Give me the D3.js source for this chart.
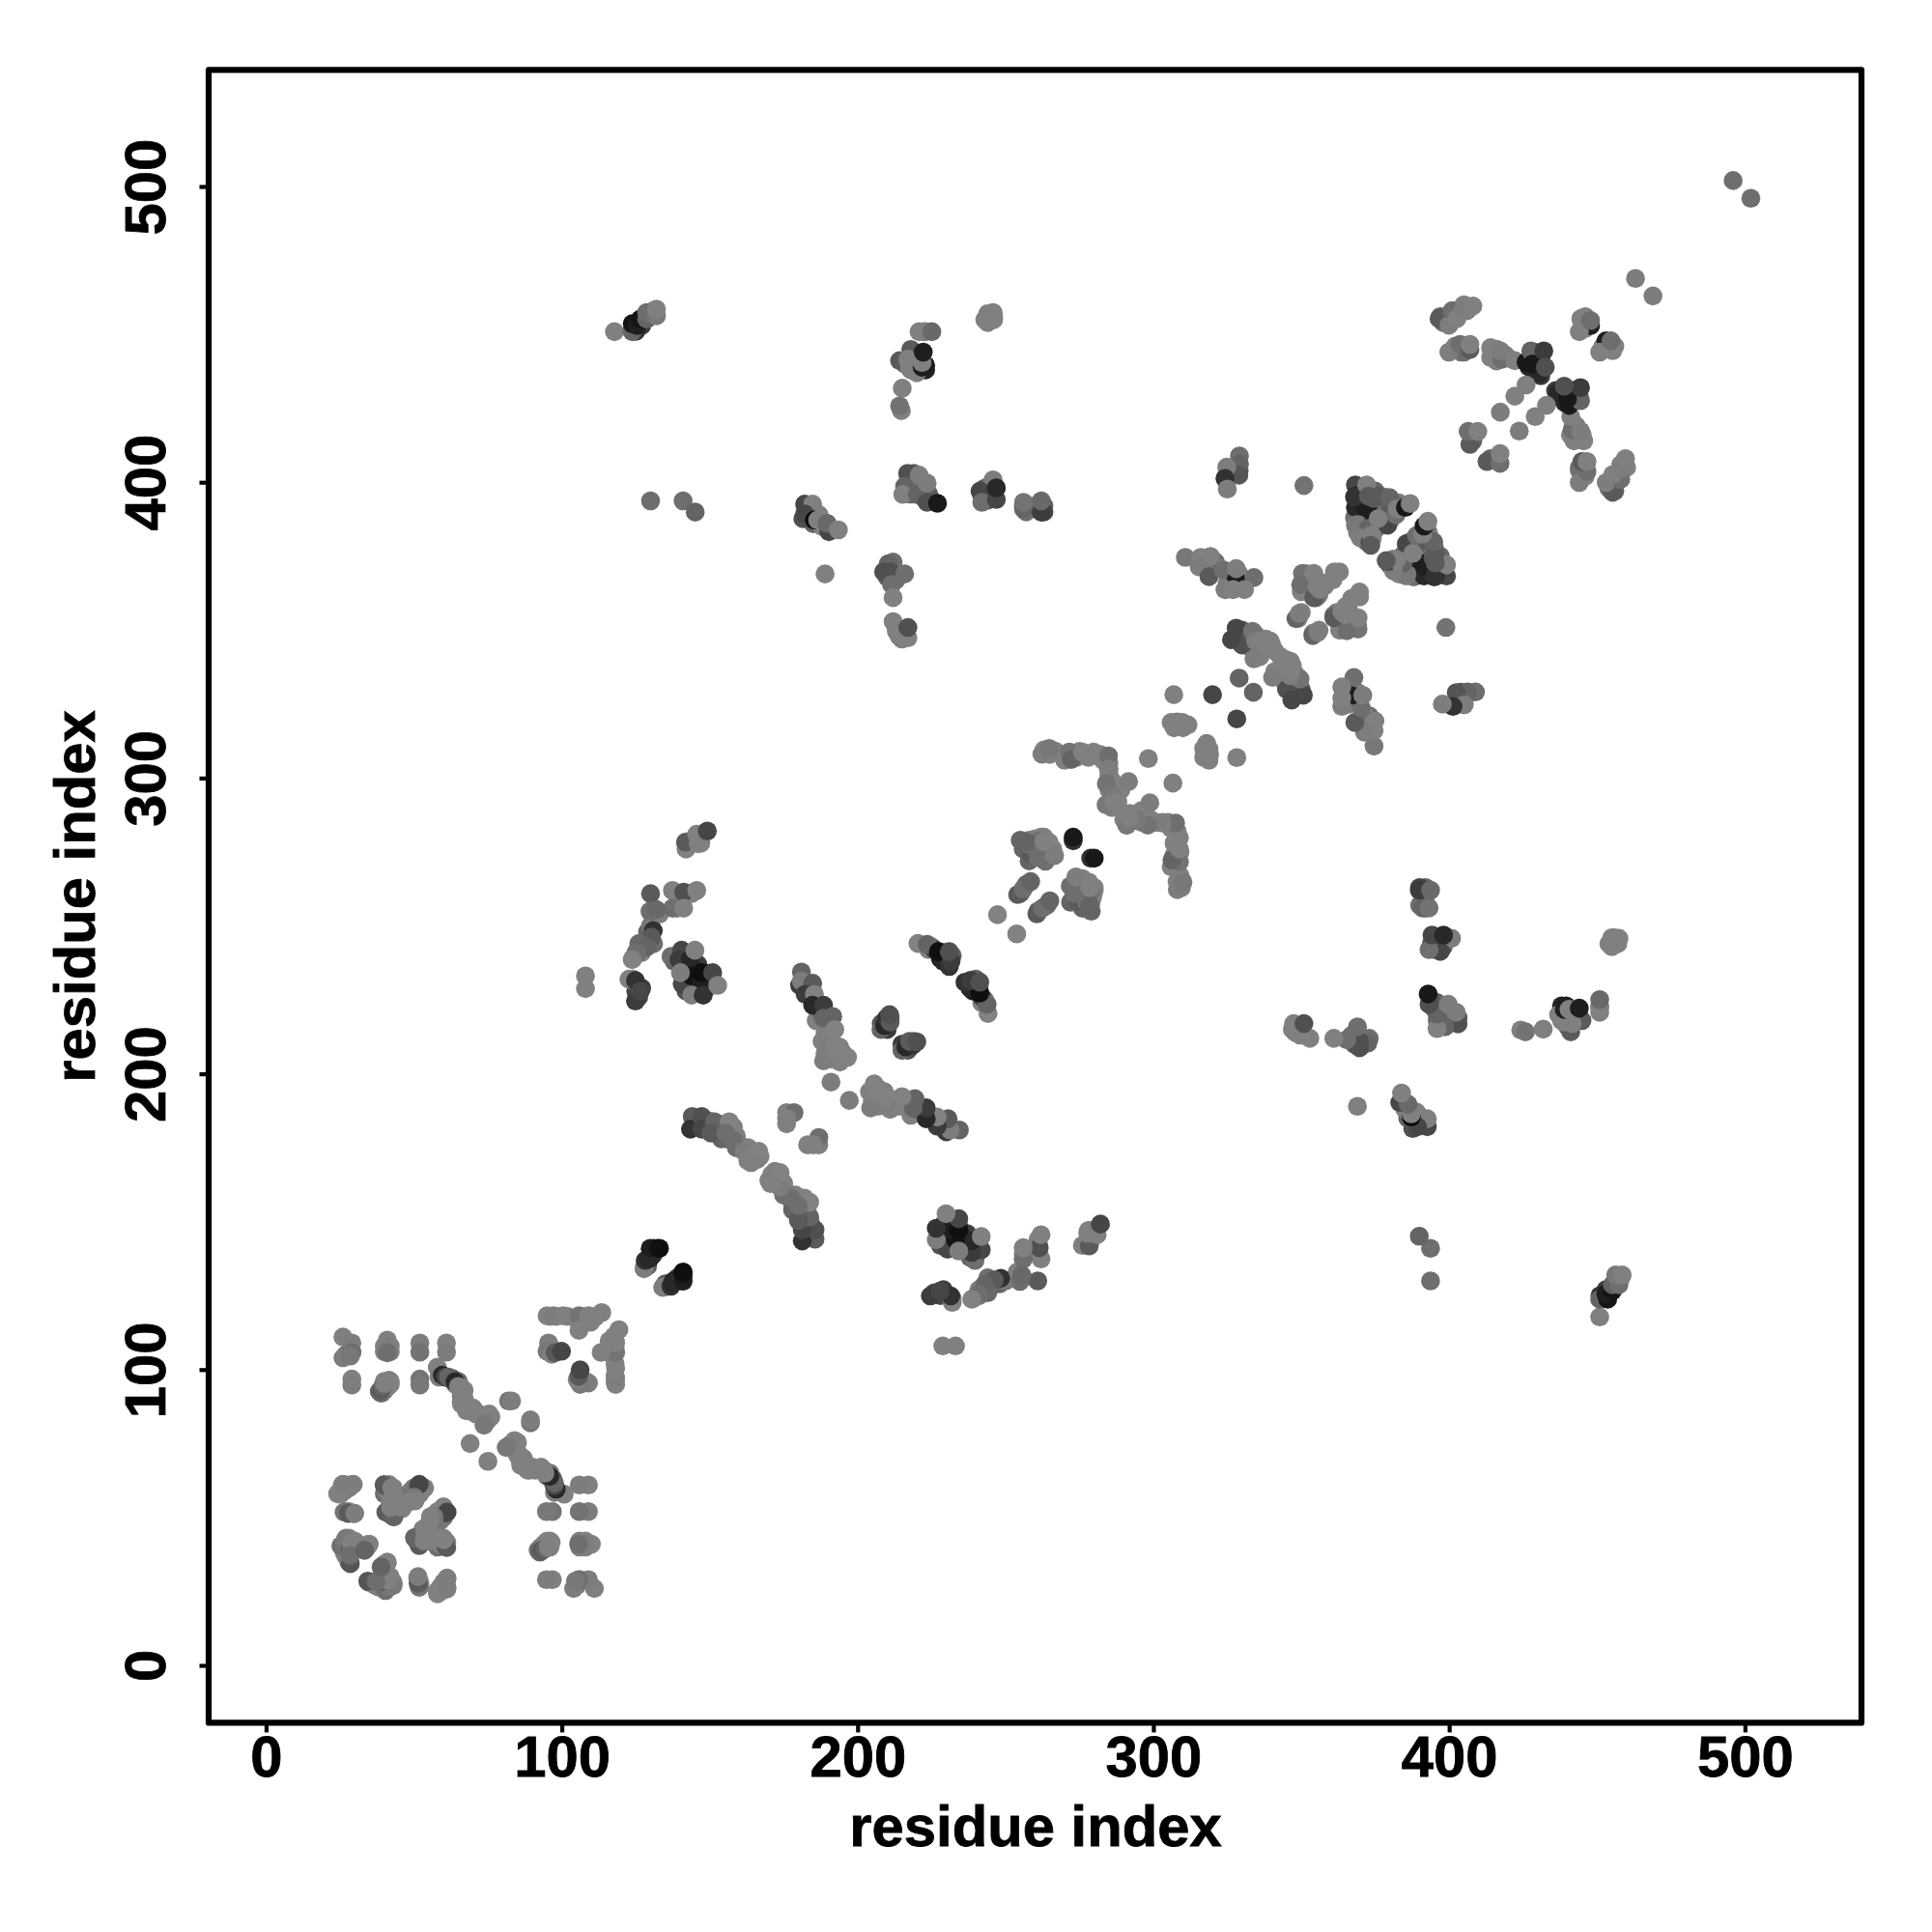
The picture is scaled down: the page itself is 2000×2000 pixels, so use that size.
<!DOCTYPE html>
<html><head><meta charset="utf-8">
<script src="https://cdn.jsdelivr.net/npm/d3@7"></script>
<style>html,body{margin:0;padding:0;background:#fff}svg{display:block}</style>
</head><body><svg id="c" width="2000" height="2000"></svg>
<script>
// Each entry: residue i, residue j (i<j), grey level. The contact map is symmetric about i=j.
// Points mostly covered by others inside the clusters (drawn first)
const coveredLow=[[25,59,128],[27,60,128],[28,60,128],[27,52,128],[28,52,128],[40,58,110],[41,59,128],[42,60,128],[43,60,128],[44,58,128],[44,57,128],[45,56,128],[41,52,110],[42,51,110],[43,52,128],[44,52,128],[42,55,128],[43,53,128],[49,59,120],[50,60,120],[52,58,128],[51,57,128],[49,57,128],[46,55,128],[46,53,128],[27,41,128],[27,39,110],[28,40,110],[29,39,128],[30,41,128],[27,43,128],[28,43,128],[28,35,100],[26.5,38,128],[27,37,128],[29,38,128],[30,42,128],[62,97,90],[63,97,90],[64,95,110],[65,96,110],[66,94,128],[67,93,128],[66,91,128],[67,90,128],[66,89,128],[68,88,128],[69,86,128],[70,87,128],[72,85,128],[73,84,128],[74,84,128],[76,84,128],[75,83,128],[40,108,128],[42,108,128],[41,109,128],[42,106,128],[40,106,128],[39,92,110],[40,93,110],[41,94,128],[42,95,128],[42,96,128],[40,96,128],[29,106,128],[27,105,110],[96,118,128],[98,118,128],[102,118,128],[107,118,128],[110,118,128],[107,116,128],[108,117,128],[106,115,128],[96,108,128],[96,106,128],[98,106,128],[129,135,90],[131,139,60],[131,141,40],[128,135,125]];
const coveredMid=[[146,183,100],[149,183,110],[150,184,128],[152,181,128],[153,183,128],[154,182,128],[156,181,128],[158,180,128],[158,182,128],[159,179,128],[160,176,120],[161,175,128],[163,175,128],[164,174,128],[165,172,128],[163,172,128],[164,170,128],[166,171,128],[167,172,128],[159,175,110],[156,178,100],[154,178,100],[186,218,128],[189,214,128],[190,212,128],[191,213,128],[188,211,128],[189,207,128],[190,206,128],[191,205,128],[193,205,128],[194,204,128],[195,207,128],[192,210,128],[194,209,128],[190,216,128],[188,220,100],[208,217,80],[210,215,60],[211,219,90],[224,242,128],[225,243,128],[228,239,30],[229,241,50],[230,238,30],[232,240,100],[229,238,40],[226,242,60],[259,276,110],[260,275,128],[262,275,128],[264,274,128],[265,275,128],[262,277,128],[260,278,110],[258,272,100],[263,280,128],[266,276,128],[256,276,100],[255,279,100],[258,279,128],[260,279.5,128],[262,280,128],[255,261,100],[257,264,100],[263,309.5,128],[265,308,128],[267,309,128],[269,308,128],[270,306,128],[274,307,128],[275,309,128],[278,307,128],[282,308,128],[283,306,128],[285,305,128],[285,301,128],[286,299,128],[285,296,128],[287,297,128],[288,295,128],[289,296,128],[287,293,128],[288,292,128],[285,303,128],[286,290,128],[284,291,120],[307,317,128],[308,319,128],[310,317,128]];
const coveredHigh=[[321,373,110],[322,371,128],[320,371,110],[317,372,128],[325,366,128],[326,368,110],[329,365,128],[328,366,128],[325,365,128],[329,369,128],[351,367,128],[352,369,120],[353,368,128],[354,366,128],[352,364,128],[353,363,128],[355,367,128],[357,366,128],[356,362,128],[358,365,128],[350,363,128],[355,361,110],[349,354,128],[350,356,128],[330,350,90],[329,347,70],[332,347,128],[331,349,90],[335,348,128],[337,344,128],[338,347,128],[335,343,128],[333,344,128],[340,345,128],[341,343,128],[336,341,128],[330,345,80],[334,349,128],[370,398,110],[370,394,60],[370,392,60],[369,389,70],[370,389,128],[368,388,110],[372,388,128],[374,392,110],[375,390,128],[377,393,128],[378,391,110],[378,388,100],[376,385,100],[375,384,110],[371,383,128],[369,383,128],[374,381,128],[372,380,100],[381,393,128],[380,387,128],[378,395,110],[375,397,100],[373,396,120],[370,391,128],[381,392,128],[383,393,128],[384,392,110],[370,396,90],[397,456,100],[398,454,110],[400,456,110],[401,455,120],[403,457,128],[405,460,128],[406,458,128],[402,446,128],[404,444,128],[405,446,128],[405,444,110],[415,443,128],[416,445,128],[418,442,128],[419,443,110],[420,442,128],[416,441,128],[428,442,25],[429,437,40],[431,442,60],[427,439,40],[430,439,70],[431,436,60],[429,444,100],[408,416,110],[408,414,100],[446,452,128],[445,454,128],[446,456,128]];
const coveredFar=[[126,454,40],[127,453,60],[129,456,128],[130,457,128],[131,458,128],[124,452,20],[125,451,50],[219,443,110],[219,439,128],[220,442,128],[216,440,100],[218,438,128],[223,438,35],[223,439.5,30],[220,441,128],[243,455,128],[244,457,128],[246,456,128],[246,455,128],[244,454,128],[223,450.9,128],[220,437,128],[183,391,90],[183,389,100],[184,388,30],[187,389,128],[185,386,100],[188,385,128],[190,385,110],[191,384,128],[188,387,128],[182,388,90],[184,390,128],[218,401,100],[219,398,128],[218,396,100],[221,399,128],[222,397,128],[221,401,128],[222,395,100],[224,396,100],[225,394,90],[219,403,90],[217,400,110],[243,396,70],[243,398,90],[245,396,60],[244,394,80],[245,399,110],[242,395,100],[244,397,60],[258,392,128],[257,390,110],[256,392,128],[261,392,110],[263,392,100],[263,390,70],[210,371,100],[212,371,110],[212,368,100],[213,367,110],[210,368,90],[212,373,110],[213,351,128],[214,350,128],[215,349,128],[215,347,128],[214,348,128],[329,404,80],[327,403,100],[326,404,110],[124,239,125],[125,241,128],[126,242,128],[127,243,110],[127,241,128],[128,245,110],[129,246,110],[129,248,100],[130,250,120],[131,253,128],[131,256,128],[133,254,128],[131,244,110],[129,244,110],[139,261,128],[143,261,128],[144,261,128],[139,256,128],[143,278,100],[144,279,128],[147,279,128],[142,276,128],[147,278,128],[138,238,100],[141,237,60],[142,240,60],[143,236,60],[145,238,40],[146,237,60],[142,232,100],[142,228,80],[145,230,90],[146,228,80],[149,232,50],[150,231,70],[149,229,70],[146,232,20],[145,235,30],[143,230,100],[149,234,40],[151,230,128],[126,226,70],[125,228,70],[127,229,60],[124,232,128]];
// Surface points
const blockTopLeft=[[26,111,128],[29,109,125],[26,104,125],[29,105.7,110],[28.5,104.6,120],[29,96.8,128],[29,94.8,125],[41,110,128],[41,107.9,125],[41,105.7,110],[38.3,92.6,100],[38.9,93.2,90],[39.4,94.3,100],[40,95.4,128],[41.6,96.4,128],[52,109,125],[52,105.9,115],[52,96.8,115],[52,94.8,120],[61,109,128],[61,105.9,125],[57.9,100.8,128],[58.5,97.5,125]];
const bandA=[[66.1,88.3,128],[67.7,86.1,128],[71,85,128],[75.4,85,128],[74.3,82.3,125],[73.7,81.2,120],[82,89.4,115],[83,89.4,125],[69,75,128],[59.6,98.1,40],[60.7,97.5,70],[61.7,97.5,100],[63.9,95.9,40],[65,94.3,128],[66.6,92.6,128]];
const blockTopRight=[[95,118.2,128],[97.1,118.2,125],[100.4,118.2,128],[105.8,118.2,115],[109.1,118.2,128],[111.3,117.7,128],[113.5,119.3,128],[105.8,113.3,128],[109.7,116,128],[95.5,109,125],[95,106.2,120],[96.6,105.2,128],[97.7,105.7,90],[99.9,106.2,70]];
const blockBottomLeft=[[25.8,61.1,128],[29,61.1,130],[24.2,58,130],[26.4,58.9,125],[26.4,51.8,115],[29.6,51.3,128],[27.8,51.4,90],[30,51.4,125],[25.1,57.9,128],[26.2,61.2,125],[29.5,61.2,125],[25.3,40.4,110],[26.4,41.4,115],[26.9,42.5,120],[28.5,39.3,90],[29,41.4,128],[28.9,41,128],[34,39.8,100],[34.5,40.9,125],[34.9,41,128],[28.5,34.4,85],[28.4,37.2,110],[33.3,38.9,100],[39.9,61.1,90],[41.6,61.1,125],[40.4,60.7,90],[42.5,60.1,128],[43.2,57.8,128],[44.9,55.6,128],[40.5,51.8,90],[43.2,50.2,105],[43.1,50.3,100],[42.1,53.4,128],[51.4,60.5,90],[53.6,60,128],[51.8,61.2,70],[48.7,56.7,115],[50.2,56.8,120],[50.3,55.6,128],[47,54.5,128],[48,55.2,128],[45.3,53.6,128]];
const pair130=[[127.8,134.1,125],[128.2,136.9,50],[129.9,137.7,35],[129.3,137.4,40],[130,140.7,50],[129.9,141,30],[132.3,141,25],[133,141,15]];
const bandB=[[144.1,185.6,90],[143.5,181.3,50],[147.3,185.6,80],[147.3,181.3,70],[151.6,183.8,100],[150.4,180,90],[156.6,183.8,130],[155.4,180,110],[157.9,177.5,110],[161.6,173.8,125],[166.6,173.8,130],[162.9,170.6,128],[176,186.9,128],[178.5,186.9,110],[176,185,128],[176,183.1,128]];
const bandC=[[180.4,230,60],[181,234.4,100],[181,231.3,125],[184.8,230.6,90],[182.3,226.9,60],[185.4,226.9,130],[184.8,223.2,40],[188.5,223.2,60],[191.6,219.4,100],[188.5,218.8,100],[192.3,215,130],[188.5,204.4,125],[189.8,209.4,125],[192.3,209.4,130],[193.5,206.9,130],[196.6,205.6,130],[191,197.2,125]];
const pair210=[[207.9,215,100],[209.1,216.3,40],[209.8,218.8,50],[211,217.5,90],[210.8,220,80]];
const bandD=[[220.4,244.1,130],[223.5,243.8,100],[227.3,241.3,15],[231,236.3,50],[231.6,238.2,60],[231,241.3,80]];
const bandE=[[247.3,253.8,130],[254.1,260.6,90],[256,262.5,110],[258.5,265,100],[258.5,274.4,90],[257.9,277.5,110],[261,273.1,110],[263.5,271.9,110],[261.6,278.8,110],[264.8,278.2,128],[266.6,273.8,125],[256.9,278.5,100],[263,278.5,128],[272.9,278.8,50],[272.9,280,25]];
const bandF=[[262.3,308.1,125],[264.8,310,120],[271.6,308.8,115],[272.3,306.3,100],[276,308.8,128],[279.8,308.8,128],[284.8,307.5,110],[284.8,303.1,125],[284.1,298.1,115],[286,294.4,120],[286.6,291.9,128],[291.6,298.8,125],[298.3,306.6,128]];
const blockSmall=[[306.9,328.2,128],[320,328.2,70],[329,333.8,100],[306,318.8,128],[309.8,318.8,128],[311.7,318,128]];
const clusterOff1=[[310.8,374.6,120],[319.3,374.8,60],[316,374.6,128],[319.3,374.8,128],[315.5,371.4,125],[318.8,368.1,90],[323.7,370.3,110],[328,367,30],[328,370.8,125],[334,367.8,110],[324.2,363.7,125],[327,363.7,128],[330.8,363.7,128]];
const clusterMid=[[350.4,369.2,115],[349.8,365.4,110],[354.2,361,90],[354.2,369.2,128],[355.3,364.8,128],[356.3,363.7,128],[361.2,369.7,128],[362.9,369.7,128],[360.7,367,128],[348.2,353.9,100],[349.3,355.6,125],[328,350.7,70],[326.4,346.8,70],[333.5,349.6,115],[334.6,346.3,125],[336.7,346.3,128],[339.5,346.3,128],[334,340.3,125]];
const diamond=[[368.3,399.1,70],[368.3,395.3,40],[368.3,391.5,40],[372.4,391.2,20],[371.6,391.5,30],[368,395,50],[372.1,399.1,128],[372.7,395.3,90],[376,395.3,90],[379.8,394.8,110],[372.4,385.2,30],[368.3,385.5,120],[369,385.7,120],[372.7,384.4,100],[370,381.2,125],[373.2,379.5,70],[373.8,382.2,128],[373.5,378.7,90],[379.2,385.5,70],[379.8,389.9,90],[376,387.7,128],[374.6,394.5,90],[380,394.5,100],[382,389,110],[382.5,391,128],[385.2,391.5,25],[386.8,392.8,128]];
const topRightA=[[396.6,455.3,90],[399.9,453.1,125],[401,458,110],[402.6,455.3,128],[404.8,458.5,125],[408,459.6,128],[399.9,444,125],[403.7,446.6,110],[407,444.9,90],[407,446.6,128],[414,442.2,128],[414,445.5,128],[417.8,441.6,110],[417.3,444.4,125],[422.2,441.1,128],[426,440.6,25],[427.6,444.4,100],[430.4,436.8,40],[428.2,440,25],[432,444.4,60],[432.5,438.9,80],[426,432.9,128],[422.2,429.1,128],[417.3,423.7,125],[407,412.8,90],[406.4,417.2,110],[409.7,417.2,128],[447.8,453,30],[444,450.9,128],[444.5,455.3,128],[447.8,454.7,110],[463,468.9,125],[496,502,110]];
const farA=[[117.8,450.9,128],[123.8,450.9,100],[123.8,453.6,20],[125.5,453,30],[126.6,455.2,20],[128.7,455.2,100],[128.7,457.4,110],[132,456.3,120],[132,458.5,128]];
const farB=[[220.8,450.9,128],[222.4,450.9,128],[225.1,450.9,105],[214.2,441.1,90],[218,444.9,90],[217.5,438.9,128],[217,441.6,128],[221.8,438.9,30],[221.8,440.5,128],[222.2,444,30],[215.1,431.8,128],[214.8,424.2,128],[214.2,425.8,115],[244.2,455.2,128],[245.8,457.4,128]];
const farC=[[130,393.7,110],[141,393.7,110],[145.1,389.9,100]];
const farD=[[182.1,392.6,70],[184.8,392.6,128],[181.5,387.7,80],[182.1,389.3,70],[185.4,387.2,10],[186.5,387.2,128],[190.3,383.3,70],[189.7,386.1,105],[193.5,383.9,128],[189,369,128]];
const farE=[[216.9,403,80],[215.9,398.6,100],[215.3,395.9,128],[220.2,395.9,100],[220.8,402.4,125],[223.5,399.7,125],[223.5,393.2,80],[227,392.9,25],[245.8,400.8,125],[241.4,397,70],[242,393.2,110],[246.9,394.2,70],[246.9,398.1,40],[256.1,391,100],[256.1,393.2,115],[262.1,389.9,60],[262.1,393.7,105]];
const farF=[[210.4,372.5,100],[208.8,369.7,80],[211,369.7,80],[215.9,369,110],[211.5,365.4,110],[212,361,128],[212,352.9,128],[213.1,349.6,128],[217,347.4,128],[217,350.9,80]];
const farG=[[329.1,408.9,110],[329.1,406.2,100],[328.9,402.4,85],[324.8,405.1,125],[324.2,401.3,50],[325,397.7,125],[350.9,398.9,115]];
const farH=[[108,233.1,128],[108,228.8,128],[122.7,232,128],[124.9,224.6,60],[124.9,231.5,50],[126.5,227.9,70]];
const farI=[[141.8,278.3,90],[146.1,277.8,128],[145.6,281,128],[149.2,282.1,70],[130,260.9,90],[137.4,262,128],[141.2,261.4,80],[145.6,262,128],[137.4,256,110],[141.2,256,128],[129.8,254.9,110],[132,255.5,105],[130.9,248.4,50],[130.3,246.2,90],[126,244,105],[128.7,242.9,100],[125.4,240.8,110],[123.8,238.6,130]];
const farJ=[[136.9,239.7,110],[140.5,241.8,70],[139.6,238.6,60],[143.4,238.6,40],[145,241.8,128],[140.7,230.4,70],[143.9,233.1,20],[147.2,230.4,30],[140.1,234.2,125],[147.2,234.2,15],[143.9,226.6,125],[147.8,226.6,50],[151,234.2,70],[152.7,229.9,128]];
const xTicks=[0,100,200,300,400,500], yTicks=[0,100,200,300,400,500];
const axisLabel="residue index";

const contacts=[].concat(coveredLow,coveredMid,coveredHigh,coveredFar,blockTopLeft,bandA,blockTopRight,blockBottomLeft,pair130,bandB,bandC,pair210,bandD,bandE,bandF,blockSmall,clusterOff1,clusterMid,diamond,topRightA,farA,farB,farC,farD,farE,farF,farG,farH,farI,farJ);
const x=d3.scaleLinear().domain([-19.4,539.4]).range([216,1927]);
const y=d3.scaleLinear().domain([-19.4,539.4]).range([1783.4,72.4]);
const svg=d3.select("#c");
const font="'Liberation Sans',Arial,sans-serif";
const pts=[];
contacts.forEach(d=>{pts.push({a:d[0],b:d[1],g:d[2]});});
contacts.forEach(d=>{pts.push({a:d[1],b:d[0],g:d[2]});});
svg.append("g").selectAll("circle").data(pts).join("circle")
 .attr("cx",d=>x(d.a)).attr("cy",d=>y(d.b)).attr("r",9.8)
 .attr("fill",d=>d3.rgb(d.g,d.g,d.g));
svg.append("rect").attr("x",216).attr("y",72.4).attr("width",1927-216).attr("height",1783.4-72.4)
 .attr("fill","none").attr("stroke","#000").attr("stroke-width",6.2).attr("stroke-linejoin","round");
const gx=svg.append("g").attr("transform","translate(0,1783.4)").call(d3.axisBottom(x).tickValues(xTicks).tickSize(10).tickPadding(5));
const gy=svg.append("g").attr("transform","translate(216,0)").call(d3.axisLeft(y).tickValues(yTicks).tickSize(9.5).tickPadding(5));
[gx,gy].forEach(g=>{g.select(".domain").remove();g.selectAll("line").attr("stroke","#000").attr("stroke-width",4.2);
 g.selectAll("text").attr("fill","#000").attr("stroke","#000").attr("stroke-width",0.8).style("font-family",font).style("font-weight","700").style("font-size","59.8px");});
gx.selectAll("text").each(function(){d3.select(this).attr("y",56).attr("dy","0");});
gy.selectAll("text").each(function(){d3.select(this).attr("x",null).attr("dy",null).attr("text-anchor","middle").attr("transform","translate(-45.5,0) rotate(-90)");});
[["translate(1072,1911)"],["translate(98,928) rotate(-90)"]].forEach(t=>{
 svg.append("text").attr("transform",t[0]).attr("text-anchor","middle").attr("stroke","#000").attr("stroke-width",0.8).style("font-family",font).style("font-weight","700").style("font-size","59.8px").text(axisLabel);});
</script></body></html>
